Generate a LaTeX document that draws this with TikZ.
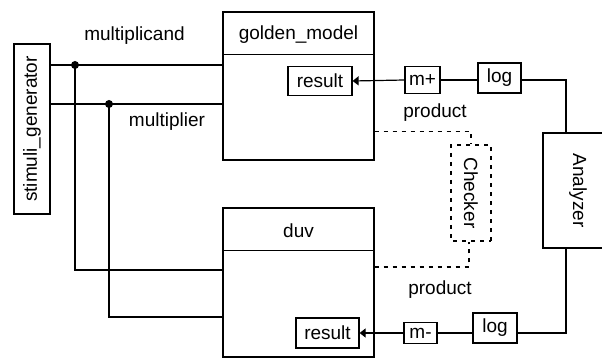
\documentclass[tikz,border=0pt]{standalone}
\usepackage{fontspec}
\setmainfont{Liberation Sans}
\usetikzlibrary{calc}
\usetikzlibrary{arrows.meta}

\begin{document}
\begin{tikzpicture}[x={(1pt,0)}, y={(0,-1pt)}, line width=1.2pt,
        font=\fontsize{19}{22}\selectfont,
        blk/.style={draw, rectangle, inner sep=0pt},
        tag/.style={draw, rectangle, inner sep=2pt, minimum height=27pt},
        probe/.style={dash pattern=on 4pt off 5pt},
        tip/.style={-{Triangle[length=6pt,width=9pt]}}]
    \useasboundingbox (0,0) rectangle (602,358);

    % generator on the left
    \node[blk, rotate=90, minimum width=170pt, minimum height=36pt] (stim) at (32,129) {stimuli\_generator};

    % reference model and design under verification
    \node[blk, minimum width=151pt, minimum height=148pt] (gm) at (298.5,86) {};
    \node (gmtitle) at (298.5,35) {golden\_model};
    \draw ($(gm.north west)+(0,43)$) -- ($(gm.north east)+(0,43)$);
    \node[blk, minimum width=151pt, minimum height=149pt] (duv) at (298.5,282.5) {};
    \node (duvtitle) at (298.5,231) {duv};
    \draw ($(duv.north west)+(0,43)$) -- ($(duv.north east)+(0,43)$);

    \node[tag, minimum width=64pt, minimum height=29pt] (gmres) at (320,81) {result};
    \node[tag, minimum width=63pt, minimum height=30pt] (duvres) at (327.5,333) {result};

    % monitors and loggers
    \node[tag, minimum width=35pt] (mplus) at (422.5,80) {m+};
    \node[tag, minimum width=43pt, minimum height=30pt] (loga) at (499.5,78) {log};
    \node[tag, minimum width=33pt, minimum height=21pt] (mminus) at (420.5,333) {m-};
    \node[tag, minimum width=44pt, minimum height=30pt] (logb) at (495,328) {log};

    \node[blk, rotate=-90, minimum width=115pt, minimum height=70pt] (anlz) at (578,190.5) {Analyzer};
    \node[blk, probe, rotate=-90, minimum width=96pt, minimum height=40pt] (chk) at (471,193) {Checker};

    % stimulus wiring
    \coordinate (jcand) at (75,65);
    \coordinate (jplier) at (109,104);
    \draw (stim.south |- jcand) -- (gm.west |- jcand);
    \draw (stim.south |- jplier) -- (gm.west |- jplier);
    \draw (jcand) |- ($(duv.west)+(0,-12.5)$);
    \draw (jplier) |- ($(duv.west)+(0,34.5)$);
    \fill (jcand) circle (4pt);
    \fill (jplier) circle (4pt);

    \node (lcand) at (134.5,36) {multiplicand};
    \node (lplier) at (167,122) {multiplier};

    % result paths
    \draw[tip] (mplus.west) -- (gmres.east);
    \draw (loga.west |- mplus) -- (mplus.east);
    \draw (loga.east |- mplus) -| ($(anlz.west)+(-12,0)$);
    \draw[tip] (mminus.west) -- (duvres.east);
    \draw (logb.west |- mminus) -- (mminus.east);
    \draw (logb.east |- mminus) -| ($(anlz.east)+(-12,0)$);

    % product to checker
    \draw[probe] ($(gm.south east)+(0,-29)$) -| (chk.west);
    \draw[probe] ($(duv.west -| duv.east)+(0,-15.5)$) -| ($(chk.east)+(-2,0)$);
    \node (lproda) at (435,113) {product};
    \node (lprodb) at (440,290) {product};
\end{tikzpicture}
\end{document}
